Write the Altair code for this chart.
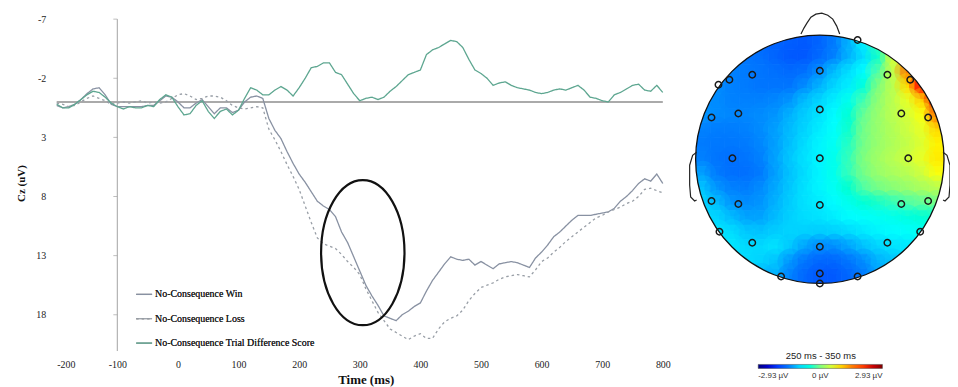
import altair as alt
import pandas as pd

# ---------------- ERP waveforms at Cz ----------------
TIME_MS = list(range(-200, 801, 10))
WIN_UV = [0.3, 0.5, 0.4, 0.2, -0.2, -0.7, -1.1, -1.2, -0.6, 0.2,
          0.4, 0.4, 0.4, 0.4, 0.4, 0.3, 0.3, -0.1, -0.5, -0.4,
          0.0, 0.5, 0.5, 0.1, -0.2, 0.4, 1.0, 0.5, 0.5, 0.9,
          0.7, 0.0, -0.4, -0.5, -0.3, 1.4, 2.4, 3.1, 4.2, 5.2,
          6.1, 6.8, 7.6, 8.4, 8.8, 9.1, 9.7, 11.0, 11.9, 13.1,
          14.3, 15.5, 16.4, 17.2, 18.1, 18.3, 18.5, 18.0, 17.7, 17.3,
          17.0, 16.0, 15.1, 14.4, 13.7, 13.1, 13.3, 13.4, 13.3, 13.8,
          13.5, 13.8, 14.1, 13.7, 13.6, 13.5, 13.6, 13.8, 14.0, 13.2,
          12.7, 12.1, 11.4, 11.0, 10.5, 10.0, 9.6, 9.6, 9.6, 9.5,
          9.4, 9.3, 9.0, 8.4, 8.0, 7.5, 6.9, 6.5, 6.7, 6.1,
          6.9]
LOSS_UV = [0.1, 0.2, 0.4, 0.3, 0.0, -0.3, -0.5, -0.3, -0.1, 0.2,
           0.1, 0.0, 0.1, 0.0, -0.1, 0.1, 0.0, 0.1, 0.0, -0.3,
           -0.6, -0.7, -0.5, -0.2, -0.3, -0.5, -0.5, -0.4, -0.1, 0.3,
           0.5, 0.6, 0.5, 0.4, 0.5, 2.3, 3.2, 4.2, 5.3, 6.3,
           7.4, 8.8, 10.2, 11.5, 12.0, 12.2, 12.4, 12.9, 13.5, 14.0,
           14.6, 15.8, 16.8, 17.8, 18.5, 19.2, 19.5, 19.8, 20.1, 19.8,
           19.6, 20.0, 20.0, 19.2, 18.6, 18.3, 18.1, 17.6, 16.8, 16.2,
           15.7, 15.5, 15.3, 15.0, 14.8, 14.7, 14.6, 14.7, 14.8, 14.2,
           13.5, 13.2, 12.7, 12.3, 11.8, 11.4, 11.0, 10.6, 10.2, 9.8,
           9.6, 9.3, 9.1, 8.9, 8.6, 8.4, 8.0, 7.4, 7.3, 7.5,
           7.7]
DIFF_UV = [0.2, 0.5, 0.5, 0.2, -0.2, -0.6, -0.9, -0.8, -0.4, 0.1,
           0.4, 0.6, 0.4, 0.5, 0.5, 0.3, 0.4, -0.2, -0.6, -0.4,
           0.4, 1.1, 1.0, 0.3, -0.1, 0.8, 1.4, 0.8, 0.6, 1.1,
           0.7, -0.3, -1.2, -1.0, -0.6, -0.6, -1.0, -1.3, -1.0, -0.5,
           -1.2, -2.0, -2.9, -3.0, -3.3, -3.3, -2.5, -2.3, -1.5, -0.7,
           -0.1, -0.3, -0.4, -0.2, -0.4, -0.9, -1.3, -1.8, -2.3, -2.5,
           -2.7, -4.0, -4.4, -4.6, -4.9, -5.2, -5.1, -4.6, -3.6, -2.7,
           -2.4, -2.0, -1.4, -1.6, -1.7, -1.4, -1.2, -1.1, -1.0, -0.8,
           -0.7, -0.8, -1.0, -1.1, -1.0, -1.2, -1.4, -1.0, -0.4, -0.3,
           -0.1, 0.0, -0.6, -0.8, -1.1, -1.4, -1.5, -1.0, -0.9, -1.4,
           -0.8]
SERIES = ["No-Consequence Win", "No-Consequence Loss",
          "No-Consequence Trial Difference Score"]
SERIES_COLORS = ["#8891a2", "#989ea6", "#5da690"]
SERIES_DASH = [[1, 0], [2.5, 3], [1, 0]]
X_TICKS = [-200, -100, 0, 100, 200, 300, 400, 500, 600, 700, 800]
Y_TICKS = [-7, -2, 3, 8, 13, 18]
Y_TOP = -7
HIGHLIGHT_MS = [305]
HIGHLIGHT_UV = [12.75]

# ---------------- Topographic map (250-350 ms) ----------------
ELEC_X = [0.304, 0.0, -0.544, -0.728, -0.816, 0.544, 0.728, 0.0, -0.656, -0.872,
          0.656, 0.872, -0.704, 0.0, 0.712, -0.872, -0.656, 0.0, 0.656, 0.872,
          -0.808, -0.544, 0.0, 0.544, 0.808, -0.312, 0.0, 0.304, 0.0]
ELEC_Y = [0.96, 0.712, 0.68, 0.64, 0.6, 0.68, 0.64, 0.4, 0.368, 0.336,
          0.368, 0.336, 0.008, 0.008, 0.008, -0.336, -0.36, -0.368, -0.36, -0.336,
          -0.584, -0.672, -0.704, -0.672, -0.584, -0.944, -0.92, -0.944, -1.0]
# potential (uV) per cell, 17 x 17 grid, rows from top (front) to bottom (back)
TOPO_GRID = [
    [-1.6, -1.6, -1.6, -1.62, -1.65, -1.7, -1.75, -1.8, -1.7, -1.5, -1.2, -0.8, -0.2, 0.6, 1.5, 2.2, 2.4],
    [-1.55, -1.55, -1.55, -1.55, -1.6, -1.7, -1.8, -1.8, -1.65, -1.45, -1.2, -0.95, -0.4, 0.5, 1.8, 2.4, 2.6],
    [-1.45, -1.45, -1.45, -1.5, -1.55, -1.6, -1.65, -1.6, -1.4, -1.15, -0.95, -0.75, -0.2, 0.4, 1.5, 2.5, 2.7],
    [-1.4, -1.4, -1.45, -1.5, -1.55, -1.55, -1.55, -1.4, -1.2, -1.0, -0.85, -0.5, 0.0, 0.35, 0.95, 2.2, 2.7],
    [-1.4, -1.4, -1.45, -1.45, -1.45, -1.42, -1.35, -1.15, -1.0, -0.85, -0.6, -0.25, 0.1, 0.35, 0.6, 1.0, 2.3],
    [-1.35, -1.4, -1.42, -1.42, -1.4, -1.35, -1.2, -1.05, -0.92, -0.75, -0.45, -0.1, 0.15, 0.35, 0.5, 0.7, 1.6],
    [-1.45, -1.48, -1.48, -1.45, -1.4, -1.3, -1.15, -1.0, -0.85, -0.7, -0.4, -0.05, 0.15, 0.3, 0.45, 0.6, 0.95],
    [-1.5, -1.52, -1.52, -1.5, -1.42, -1.3, -1.12, -0.95, -0.8, -0.65, -0.35, -0.05, 0.15, 0.28, 0.4, 0.55, 0.8],
    [-1.45, -1.55, -1.6, -1.55, -1.45, -1.28, -1.08, -0.92, -0.8, -0.6, -0.3, 0.0, 0.2, 0.33, 0.47, 0.6, 0.85],
    [-1.3, -1.5, -1.6, -1.6, -1.5, -1.3, -1.1, -0.95, -0.8, -0.6, -0.3, -0.05, 0.15, 0.25, 0.33, 0.47, 0.7],
    [-1.1, -1.35, -1.45, -1.48, -1.4, -1.25, -1.08, -0.92, -0.8, -0.65, -0.42, -0.2, -0.05, 0.05, 0.15, 0.25, 0.33],
    [-1.0, -1.15, -1.35, -1.4, -1.35, -1.2, -1.05, -0.92, -0.85, -0.75, -0.6, -0.45, -0.38, -0.3, -0.2, -0.12, -0.05],
    [-0.95, -1.0, -1.15, -1.28, -1.28, -1.15, -1.02, -0.95, -0.92, -0.85, -0.75, -0.7, -0.65, -0.6, -0.52, -0.45, -0.4],
    [-0.9, -0.9, -0.95, -1.08, -1.1, -1.05, -1.0, -1.02, -1.05, -1.02, -0.97, -0.88, -0.8, -0.75, -0.7, -0.65, -0.6],
    [-0.88, -0.88, -0.88, -0.97, -0.97, -0.92, -1.08, -1.28, -1.4, -1.4, -1.28, -1.12, -1.0, -0.92, -0.88, -0.85, -0.85],
    [-0.95, -0.95, -0.95, -0.95, -1.0, -1.1, -1.35, -1.55, -1.68, -1.68, -1.55, -1.4, -1.2, -1.1, -1.05, -1.0, -1.0],
    [-1.2, -1.2, -1.2, -1.2, -1.2, -1.2, -1.45, -1.68, -1.8, -1.8, -1.68, -1.5, -1.3, -1.3, -1.3, -1.3, -1.3],
]
CBAR_MIN, CBAR_MAX = -2.93, 2.93
CBAR_TITLE = "250 ms - 350 ms"
JET = ["#00007f", "#0000ff", "#007fff", "#00ffff", "#7fff7f",
       "#ffff00", "#ff7f00", "#ff0000", "#7f0000"]
NOSE_X = [-0.152, -0.128, -0.104, -0.072, -0.032, 0.016, 0.064, 0.104, 0.136, 0.16]
NOSE_Y = [1.008, 1.056, 1.096, 1.144, 1.168, 1.176, 1.16, 1.128, 1.072, 1.008]
EAR_X = [-0.992, -1.024, -1.048, -1.048, -1.04, -1.008, -0.992]
EAR_Y = [0.056, 0.032, -0.048, -0.208, -0.304, -0.336, -0.328]

# ---------------- layout (pixels) ----------------
W, H = 893, 334
PAD = {"left": 49, "top": 10, "right": 6, "bottom": 36}
PX_PER_MS, PX_PER_UV = 0.61, 11.9
X_MAX = X_TICKS[0] + W / PX_PER_MS
Y_MAX = Y_TOP + H / PX_PER_UV
HEAD_CX, HEAD_CY, HEAD_R = 768, 141, 125

serif = "Liberation Serif"
sans = "Liberation Sans"

xs = alt.Scale(domain=[X_TICKS[0], X_MAX], nice=False, zero=False)
ys = alt.Scale(domain=[Y_TOP, Y_MAX], reverse=True, nice=False, zero=False)
neg_expr = "(datum.value < 0 ? '-' : '') + abs(datum.value)"
x_axis = alt.Axis(values=X_TICKS, domain=False, ticks=False, grid=False,
                  labelPadding=9, labelFont=serif, labelFontSize=10, labelColor="#222",
                  labelExpr=neg_expr, title="Time (ms)", titleFont=serif,
                  titleFontSize=13, titleFontWeight="bold", titleColor="#111",
                  titleX=311, titleY=33, titleAlign="center", titleBaseline="alphabetic")
y_axis = alt.Axis(values=Y_TICKS, domain=False, ticks=False, grid=False,
                  labelPadding=11, labelFont=serif, labelFontSize=10, labelColor="#222",
                  labelExpr=neg_expr, title="Cz (uV)", titleFont=serif, titleFontSize=11,
                  titleFontWeight="bold", titleColor="#111", titleX=-35, titleY=165,
                  titleAngle=-90, titleAlign="center", titleBaseline="middle")

erp_rows = []
for name, vals in zip(SERIES, [WIN_UV, LOSS_UV, DIFF_UV]):
    for t, v in zip(TIME_MS, vals):
        erp_rows.append({"ms": t, "uv": v, "series": name})
erp_df = pd.DataFrame(erp_rows)

erp_legend = alt.Legend(orient="none", legendX=79, legendY=268, title=None,
                        symbolType="stroke", symbolSize=256, symbolStrokeWidth=1.3,
                        labelFont=serif, labelFontSize=10, labelColor="#222",
                        labelOffset=2, rowPadding=10.5, padding=0, labelLimit=400)

lines = alt.Chart(erp_df).mark_line(strokeWidth=1.3).encode(
    x=alt.X("ms:Q", scale=xs, axis=x_axis),
    y=alt.Y("uv:Q", scale=ys, axis=y_axis),
    color=alt.Color("series:N", scale=alt.Scale(domain=SERIES, range=SERIES_COLORS),
                    legend=erp_legend),
    strokeDash=alt.StrokeDash("series:N", scale=alt.Scale(domain=SERIES, range=SERIES_DASH),
                              legend=erp_legend),
)

zero_df = pd.DataFrame({"ms": [X_TICKS[0]], "ms2": [X_TICKS[-1]], "uv": [0]})
zero_line = alt.Chart(zero_df).mark_rule(color="#8e8e8e", strokeWidth=1.5).encode(
    x=alt.X("ms:Q", scale=xs, axis=x_axis), x2="ms2:Q",
    y=alt.Y("uv:Q", scale=ys, axis=y_axis))

vaxis_df = pd.DataFrame({"ms": [-100], "uv": [Y_TOP], "uv2": [Y_MAX]})
vaxis = alt.Chart(vaxis_df).mark_rule(color="#a3a3a3", strokeWidth=1).encode(
    x=alt.X("ms:Q", scale=xs, axis=x_axis),
    y=alt.Y("uv:Q", scale=ys, axis=y_axis), y2="uv2:Q")

ytick_df = pd.DataFrame({"ms": [-100] * len(Y_TICKS), "uv": Y_TICKS})
yticks = alt.Chart(ytick_df).mark_tick(orient="horizontal", size=4, thickness=1,
                                        xOffset=-2, color="#a3a3a3").encode(
    x=alt.X("ms:Q", scale=xs, axis=x_axis),
    y=alt.Y("uv:Q", scale=ys, axis=y_axis))

ELLIPSE_PATH = "M -0.575 0 A 0.575 1 0 1 1 0.575 0 A 0.575 1 0 1 1 -0.575 0 Z"
ell_df = pd.DataFrame({"ms": HIGHLIGHT_MS, "uv": HIGHLIGHT_UV})
ellipse = alt.Chart(ell_df).mark_point(shape=ELLIPSE_PATH, size=146 ** 2, filled=False,
                                       color="#111", stroke="#111", strokeWidth=2.2,
                                       opacity=1).encode(
    x=alt.X("ms:Q", scale=xs, axis=x_axis),
    y=alt.Y("uv:Q", scale=ys, axis=y_axis))

erp = alt.layer(zero_line, vaxis, yticks, lines, ellipse)

# ---------------- topomap ----------------
tx = alt.Scale(domain=[-HEAD_CX / HEAD_R, (W - HEAD_CX) / HEAD_R], nice=False, zero=False)
ty = alt.Scale(domain=[(HEAD_CY - H) / HEAD_R, HEAD_CY / HEAD_R], nice=False, zero=False)

n = len(TOPO_GRID)
step = 2.0 / n
cells = []
for r, row in enumerate(TOPO_GRID):
    for c, v in enumerate(row):
        x0, x1 = -1 + c * step, -1 + (c + 1) * step
        y1, y0 = 1 - r * step, 1 - (r + 1) * step
        nxp = 0.0 if x0 <= 0 <= x1 else (x0 if x0 > 0 else x1)
        nyp = 0.0 if y0 <= 0 <= y1 else (y0 if y0 > 0 else y1)
        if nxp * nxp + nyp * nyp < 1.0:
            cells.append({"x0": x0, "x1": x1, "y0": y0, "y1": y1,
                          "xc": (x0 + x1) / 2, "yc": (y0 + y1) / 2, "v": v})
cells_df = pd.DataFrame(cells)
CELL_PX = step * HEAD_R

jet_domain = [CBAR_MIN + i * (CBAR_MAX - CBAR_MIN) / (len(JET) - 1) for i in range(len(JET))]
cscale = alt.Scale(domain=jet_domain, range=JET, type="linear")
cbar_legend = alt.Legend(orient="none", legendX=706, legendY=334, direction="horizontal",
                         gradientLength=125, gradientThickness=4, title=CBAR_TITLE,
                         titleFont=sans, titleFontSize=9.5, titleFontWeight="normal",
                         titleColor="#222", titleAnchor="middle", titlePadding=4,
                         values=[CBAR_MIN, 0, CBAR_MAX],
                         labelExpr="datum.value == 0 ? '0 µV' : (datum.value < 0 ? '-' : '') + format(abs(datum.value), '.2f') + ' µV'",
                         labelFont=sans, labelFontSize=8, labelColor="#333", labelOffset=4,
                         labelAlign="center", labelOverlap=False, padding=0,
                         gradientStrokeColor="#444", gradientStrokeWidth=0.5)

field = alt.Chart(cells_df).mark_rect(strokeWidth=0.6, opacity=1).encode(
    x=alt.X("x0:Q", scale=tx, axis=None), x2="x1:Q",
    y=alt.Y("y0:Q", scale=ty, axis=None), y2="y1:Q",
    color=alt.Color("v:Q", scale=cscale, legend=cbar_legend),
    stroke=alt.Stroke("v:Q", scale=cscale, legend=None),
)
# soft overlapping discs on each cell to soften the cell edges (own fill scale, no legend)
soft = alt.Chart(cells_df).mark_circle(size=(1.8 * CELL_PX) ** 2, fillOpacity=0.35,
                                       strokeWidth=0).encode(
    x=alt.X("xc:Q", scale=tx, axis=None),
    y=alt.Y("yc:Q", scale=ty, axis=None),
    fill=alt.Fill("v:Q", scale=cscale, legend=None),
)

center_df = pd.DataFrame({"nx": [0.0], "ny": [0.0]})
mask = alt.Chart(center_df).mark_point(shape="circle", filled=False, size=(2 * 140) ** 2,
                                       color="white", stroke="white", strokeWidth=30,
                                       opacity=1).encode(
    x=alt.X("nx:Q", scale=tx, axis=None), y=alt.Y("ny:Q", scale=ty, axis=None))
head = alt.Chart(center_df).mark_point(shape="circle", filled=False, size=(2 * HEAD_R) ** 2,
                                       color="#111", stroke="#111", strokeWidth=1.3,
                                       opacity=1).encode(
    x=alt.X("nx:Q", scale=tx, axis=None), y=alt.Y("ny:Q", scale=ty, axis=None))

outline_rows = []
for k, (a, b) in enumerate(zip(NOSE_X, NOSE_Y)):
    outline_rows.append({"part": "nose", "k": k, "nx": a, "ny": b})
for k, (a, b) in enumerate(zip(EAR_X, EAR_Y)):
    outline_rows.append({"part": "ear_l", "k": k, "nx": a, "ny": b})
    outline_rows.append({"part": "ear_r", "k": k, "nx": -a, "ny": b})
outline_df = pd.DataFrame(outline_rows)
outline = alt.Chart(outline_df).mark_line(color="#222", strokeWidth=1.2).encode(
    x=alt.X("nx:Q", scale=tx, axis=None), y=alt.Y("ny:Q", scale=ty, axis=None),
    detail="part:N", order="k:Q")

elec_df = pd.DataFrame({"nx": ELEC_X, "ny": ELEC_Y})
electrodes = alt.Chart(elec_df).mark_point(shape="circle", filled=False, size=42,
                                           color="#1a1a1a", stroke="#1a1a1a",
                                           strokeWidth=1.5, opacity=1).encode(
    x=alt.X("nx:Q", scale=tx, axis=None), y=alt.Y("ny:Q", scale=ty, axis=None))

topo = alt.layer(field, soft, mask, head, outline, electrodes)

chart = alt.layer(erp, topo).resolve_scale(
    x="independent", y="independent", color="independent"
).properties(
    width=W, height=H, autosize=alt.AutoSizeParams(type="none"), padding=PAD,
    background="white"
).configure_view(stroke=None)

chart.save("out.html", embed_options={"renderer": "svg", "actions": False})
